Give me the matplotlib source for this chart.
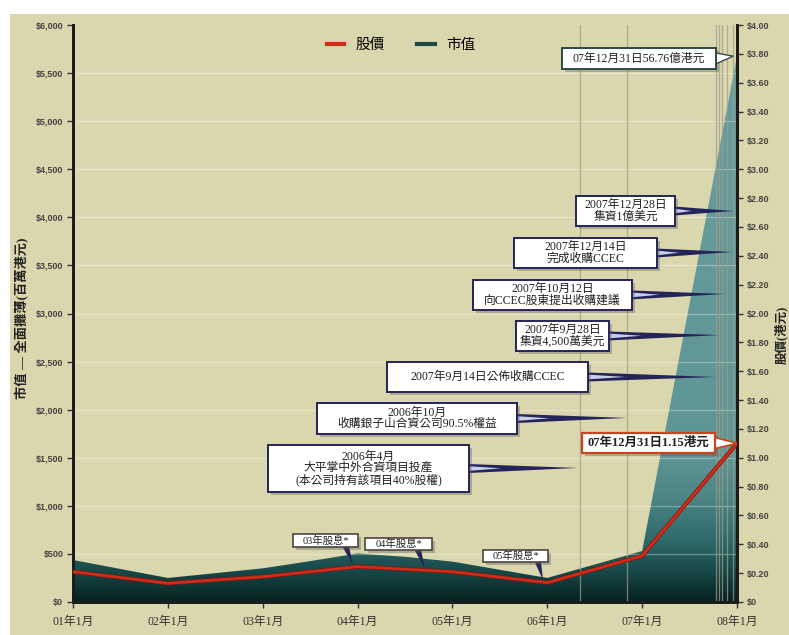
import numpy as np
import matplotlib.pyplot as plt
from matplotlib.colors import LinearSegmentedColormap
from matplotlib.patches import Rectangle, Polygon
from matplotlib.lines import Line2D
import matplotlib.patheffects as pe

# ---- data ----
cap_dates = [2001.0, 2002.0, 2003.0, 2003.5, 2004.0, 2004.5, 2005.0, 2005.5, 2006.0, 2007.0, 2008.0]
cap_vals = [437, 250, 350, 425, 505, 470, 420, 335, 250, 530, 5676]   # 百萬港元

price_dates = [2001.0, 2002.0, 2003.0, 2004.0, 2005.0, 2006.0, 2007.0, 2008.0]
price_vals = [0.21, 0.13, 0.175, 0.245, 0.21, 0.134, 0.32, 1.10]       # 港元

year_ticks = [2001, 2002, 2003, 2004, 2005, 2006, 2007, 2008]
year_labels = ["01年1月", "02年1月", "03年1月", "04年1月", "05年1月", "06年1月", "07年1月", "08年1月"]

event_dates = [2006.345, 2006.84, 2007.779, 2007.81, 2007.842, 2007.895, 2007.958]

# callouts: text, box centre (year, 市值), box size (years, 市值), tip (year, 市值)
event_notes = [
    ("2007年12月28日\n集資1億美元", (2006.825, 4066), (1.04, 312), (2007.958, 4066)),
    ("2007年12月14日\n完成收購CCEC", (2006.403, 3629), (1.51, 312), (2007.947, 3640)),
    ("2007年10月12日\n向CCEC股東提出收購建議", (2006.055, 3193), (1.68, 312), (2007.874, 3203)),
    ("2007年9月28日\n集資4,500萬美元", (2006.16, 2766), (0.98, 312), (2007.82, 2776)),
    ("2007年9月14日公佈收購CCEC", (2005.37, 2340), (2.12, 312), (2007.77, 2340)),
    ("2006年10月\n收購銀子山合資公司90.5%權益", (2004.627, 1908), (2.11, 322), (2006.84, 1914)),
    ("2006年4月\n大平掌中外合資項目投產\n(本公司持有該項目40%股權)", (2004.115, 1388), (2.12, 489), (2006.32, 1394)),
]
dividend_notes = [
    ("03年股息*", (2003.662, 640), (0.685, 135), (2003.878, 572), (2003.952, 385)),
    ("04年股息*", (2004.432, 603), (0.706, 125), (2004.637, 541), (2004.711, 343)),
    ("05年股息*", (2005.665, 478), (0.685, 125), (2005.902, 416), (2005.955, 229)),
]

KHAKI = "#dad6ad"
NAVY = "#25245a"
SERIF = ["Liberation Serif", "Noto Sans CJK TC"]
TICKF = ["Liberation Sans", "DejaVu Sans"]

fig = plt.figure(figsize=(7.89, 6.35), dpi=100)
fig.patch.set_facecolor("white")
fig.patches.append(Rectangle((10 / 789, 0), 1, 1 - 14 / 635, transform=fig.transFigure,
                             fc=KHAKI, ec="none", zorder=-10))

ax = fig.add_axes([73 / 789, 33 / 635, 664 / 789, 577 / 635])
ax.patch.set_visible(False)
ax.set_xlim(2001, 2008)
ax.set_ylim(0, 6000)

# ---- 市值 area with vertical gradient ----
cmap = LinearSegmentedColormap.from_list("teal", [
    (0.0, "#072222"), (0.05, "#174848"), (0.10, "#2d6767"),
    (0.17, "#4a8282"), (0.25, "#5e9595"), (1.0, "#6a9f9f")])
grad = np.linspace(0, 1, 400).reshape(-1, 1)
im = ax.imshow(grad, cmap=cmap, extent=[2001, 2008, 0, 6000], origin="lower",
               aspect="auto", zorder=1)
verts = np.column_stack([cap_dates + [2008.0, 2001.0], cap_vals + [0, 0]])
im.set_clip_path(Polygon(verts, closed=True, transform=ax.transData))

# grid + event lines above the area
for v in np.arange(500, 6000, 500):
    ax.axhline(v, color="white", alpha=0.3, lw=1, zorder=2)
for d in event_dates:
    ax.axvline(d, color="#a09d8a", alpha=0.75, lw=0.9, zorder=2)

ax.set_yticks(np.arange(0, 6001, 500))
ax.set_yticklabels(["$0"] + [f"${v:,}" for v in range(500, 6001, 500)])
ax.set_xticks(year_ticks)
ax.set_xticklabels(year_labels)
for lab in ax.get_xticklabels():
    lab.set_family(SERIF)
    lab.set_fontsize(8.5)
    lab.set_color("#333333")
for lab in ax.get_yticklabels():
    lab.set_family(TICKF)
    lab.set_fontsize(6.5)
    lab.set_fontweight("bold")
    lab.set_color("#444444")
ax.tick_params(axis="both", direction="out", length=4, width=1, color="#333333", pad=3)
ax.tick_params(axis="x", pad=6)

for s in ["top"]:
    ax.spines[s].set_visible(False)
for s in ["left", "right", "bottom"]:
    ax.spines[s].set_linewidth(2)
    ax.spines[s].set_color("#1b1b1b")

# ---- 股價 line on right axis ----
ax2 = ax.twinx()
ax2.set_ylim(0, 4.0)
ax2.set_yticks(np.arange(0, 4.001, 0.2))
ax2.set_yticklabels(["$0"] + [f"${v:.2f}" for v in np.arange(0.2, 4.001, 0.2)])
for lab in ax2.get_yticklabels():
    lab.set_family(TICKF)
    lab.set_fontsize(6.5)
    lab.set_fontweight("bold")
    lab.set_color("#444444")
ax2.tick_params(axis="y", direction="out", length=4, width=1, color="#333333", pad=3)
for s in ["top"]:
    ax2.spines[s].set_visible(False)
for s in ["left", "right", "bottom"]:
    ax2.spines[s].set_linewidth(2)
    ax2.spines[s].set_color("#1b1b1b")

ax2.plot(price_dates, price_vals, color="#d02a18", lw=2.0, zorder=5,
         path_effects=[pe.Stroke(linewidth=3.0, foreground="#7a1a10"), pe.Normal()])


# ---- callout helpers (drawn on ax2, positioned in 市值 units) ----
def wedge(base, tip, half_w, fc, ec="none", lw=0, z=6):
    tr = ax.transData
    b = tr.transform(base)
    t = tr.transform(tip)
    d = t - b
    n = np.array([-d[1], d[0]]) / np.hypot(*d)
    pts = tr.inverted().transform(np.array([b + n * half_w, t, b - n * half_w]))
    ax2.add_patch(Polygon(pts, closed=True, fc=fc, ec=ec, lw=lw,
                          transform=ax.transData, zorder=z))


def box(center, size, text, fs=8.5, weight="normal", ec=NAVY, lw=1.4):
    cx, cy = center
    w, h = size
    ax2.add_patch(Rectangle((cx - w / 2 + 0.03, cy - h / 2 - 30), w, h, fc="#555555",
                            alpha=0.35, ec="none", transform=ax.transData, zorder=7))
    ax2.add_patch(Rectangle((cx - w / 2, cy - h / 2), w, h, fc="white", ec=ec, lw=lw,
                            transform=ax.transData, zorder=8))
    ax2.text(cx, cy, text, ha="center", va="center", fontsize=fs, family=SERIF,
             fontweight=weight, linespacing=0.95, color="#222222",
             transform=ax.transData, zorder=9)


for text, c, size, tip in event_notes:
    base = (c[0] + size[0] / 2 - 0.01, c[1])
    wedge(base, tip, 4.5, NAVY)
    mid = (base[0] + (tip[0] - base[0]) * 0.3, base[1] + (tip[1] - base[1]) * 0.3)
    wedge(base, mid, 2.4, "#c9cfe8", z=6.5)
    box(c, size, text)

for text, c, size, base, tip in dividend_notes:
    wedge(base, tip, 3.0, NAVY)
    box(c, size, text, fs=7.5, ec="#4a4540", lw=1.2)

# market cap end value
c, size = (2006.967, 5652), (1.62, 218)
wedge((c[0] + size[0] / 2 - 0.02, c[1]), (2007.96, cap_vals[-1]), 6, "white", ec="#3a4a4a", lw=1, z=7.5)
box(c, size, "07年12月31日56.76億港元", fs=8.5, ec="#2c4a44", lw=1.4)

# share price end value
c, size = (2007.067, 1653), (1.40, 208)
wedge((c[0] + size[0] / 2 - 0.02, c[1]), (2008.0, price_vals[-1] * 1500), 6, "white",
      ec="#c8461e", lw=1.2, z=7.5)
box(c, size, "07年12月31日1.15港元", fs=9, weight="bold", ec="#c8461e", lw=1.6)

# ---- legend ----
handles = [Line2D([], [], color="#d02a18", lw=3), Line2D([], [], color="#1f4a4a", lw=3)]
ax2.legend(handles, ["股價", "市值"], loc="center", bbox_to_anchor=(0.494, 0.966),
           ncol=2, frameon=False, handlelength=1.2, columnspacing=2.2,
           prop={"family": ["Noto Sans CJK TC"], "size": 10.5})

# ---- axis titles ----
fig.text(22 / 789, 1 - 318 / 635, "市值 — 全面攤薄(百萬港元)", rotation=90, ha="center",
         va="center", fontsize=9.5, fontweight="bold", family=SERIF, color="#222222")
fig.text(781 / 789, 1 - 335 / 635, "股價(港元)", rotation=90, ha="center", va="center",
         fontsize=9, fontweight="bold", family=SERIF, color="#222222")

fig.savefig("out.png", dpi=100)
